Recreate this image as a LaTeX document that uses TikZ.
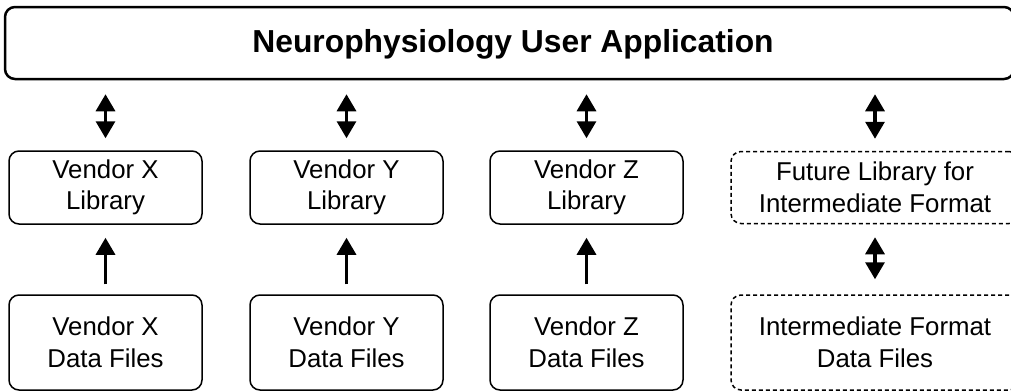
\documentclass[tikz,border=0pt]{standalone}
\usepackage{fontspec}
\setmainfont{Liberation Sans}
\usetikzlibrary{arrows.meta}
\tikzset{
  box/.style={draw, line width=1.5pt, rounded corners=10pt, align=center, inner sep=0pt,
    font=\fontsize{25.8}{31.5}\selectfont},
  futbox/.style={box, dashed, dash pattern=on 4pt off 3pt},
  appbox/.style={draw, line width=2.5pt, rounded corners=10pt, inner sep=0pt},
  titletext/.style={font=\fontsize{31.8}{36}\selectfont\bfseries},
  tip/.style={line width=3.2pt, -{Triangle[width=19pt,length=17pt]}},
  dbl/.style={line width=3.2pt, {Triangle[width=19pt,length=17pt]}-{Triangle[width=19pt,length=17pt]}}
}
\begin{document}
\begin{tikzpicture}[x=1pt,y=-1pt]
\useasboundingbox (0,0) rectangle (1011,391);
\clip (0,0) rectangle (1011,391);
\node[appbox, minimum width=1009pt, minimum height=72pt] (app) at (509.5,43) {};
\node[titletext] (title) at (513,44) {Neurophysiology User Application};
\node[box, minimum width=193pt, minimum height=73pt] (libX) at (105.5,187.5) {Vendor X\\Library};
\node[box, minimum width=193pt, minimum height=73pt] (libY) at (346.5,187.5) {Vendor Y\\Library};
\node[box, minimum width=193pt, minimum height=73pt] (libZ) at (586.5,187.5) {Vendor Z\\Library};
\node[futbox, minimum width=288pt, minimum height=72pt] (libF) at (875,187.5) {Future Library for\\Intermediate Format};
\node[box, minimum width=193pt, minimum height=95pt] (datX) at (105.5,342.5) {Vendor X\\Data Files};
\node[box, minimum width=193pt, minimum height=95pt] (datY) at (346.5,342.5) {Vendor Y\\Data Files};
\node[box, minimum width=193pt, minimum height=95pt] (datZ) at (586.5,342.5) {Vendor Z\\Data Files};
\node[futbox, minimum width=288pt, minimum height=95pt] (datF) at (875,342.5) {Intermediate Format\\Data Files};
\foreach \n in {libX,libY,libZ,libF}{
  \draw[dbl, shorten <=12pt, shorten >=14pt] (\n.north) -- (\n.north |- app.south);
}
\foreach \a/\b in {datX/libX,datY/libY,datZ/libZ}{
  \draw[tip, shorten <=10pt, shorten >=13pt] (\a.north) -- (\b.south);
}
\draw[dbl, shorten <=13pt, shorten >=15pt] (libF.south) -- (datF.north);
\end{tikzpicture}
\end{document}
